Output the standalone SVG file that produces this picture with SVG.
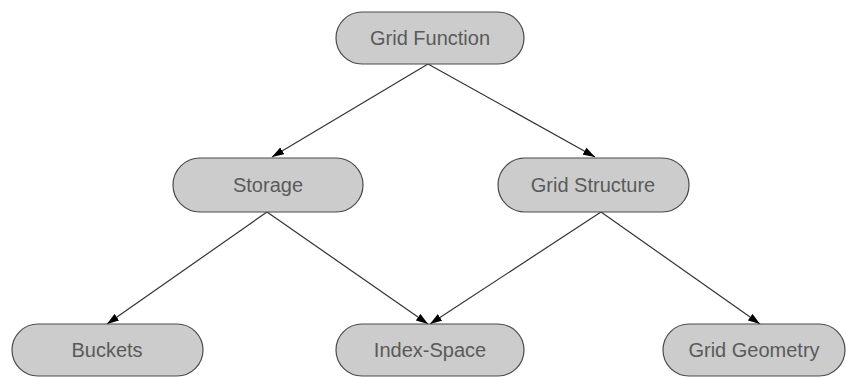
<svg xmlns="http://www.w3.org/2000/svg" width="846" height="377" viewBox="0 0 846 377">
<style>
.node rect{fill:#cccccc;stroke:#4a4a4a;stroke-width:1.2}
.node text{font-family:"Liberation Sans",Arial,sans-serif;font-size:20px;fill:#5a5a5a;text-anchor:middle}
.edges line{stroke:#333;stroke-width:1.2;marker-end:url(#arr)}
</style>
<defs>
<marker id="arr" viewBox="0 0 12 8" refX="12" refY="4" markerWidth="12" markerHeight="8" markerUnits="userSpaceOnUse" orient="auto">
<path d="M0,0 L12,4 L0,8 z" fill="#000"/>
</marker>
</defs>
<rect width="846" height="377" fill="#fff"/>
<g class="edges">
<line x1="428" y1="64" x2="272" y2="157"/>
<line x1="428" y1="64" x2="595" y2="157"/>
<line x1="267" y1="212" x2="107" y2="324"/>
<line x1="267" y1="212" x2="428" y2="324"/>
<line x1="601" y1="212" x2="430" y2="324"/>
<line x1="601" y1="212" x2="760" y2="324"/>
</g>
<g id="grid-function" class="node"><rect x="336" y="12" width="188" height="52" rx="26"/><text x="430" y="45">Grid Function</text></g>
<g id="storage" class="node"><rect x="173" y="158" width="190" height="54" rx="27"/><text x="268" y="192">Storage</text></g>
<g id="grid-structure" class="node"><rect x="498" y="158" width="191" height="54" rx="27"/><text x="593" y="192">Grid Structure</text></g>
<g id="buckets" class="node"><rect x="12" y="324" width="191" height="52" rx="26"/><text x="107" y="357">Buckets</text></g>
<g id="index-space" class="node"><rect x="336" y="324" width="188" height="52" rx="26"/><text x="430" y="357">Index-Space</text></g>
<g id="grid-geometry" class="node"><rect x="663" y="324" width="182" height="52" rx="26"/><text x="754" y="357">Grid Geometry</text></g>
</svg>
